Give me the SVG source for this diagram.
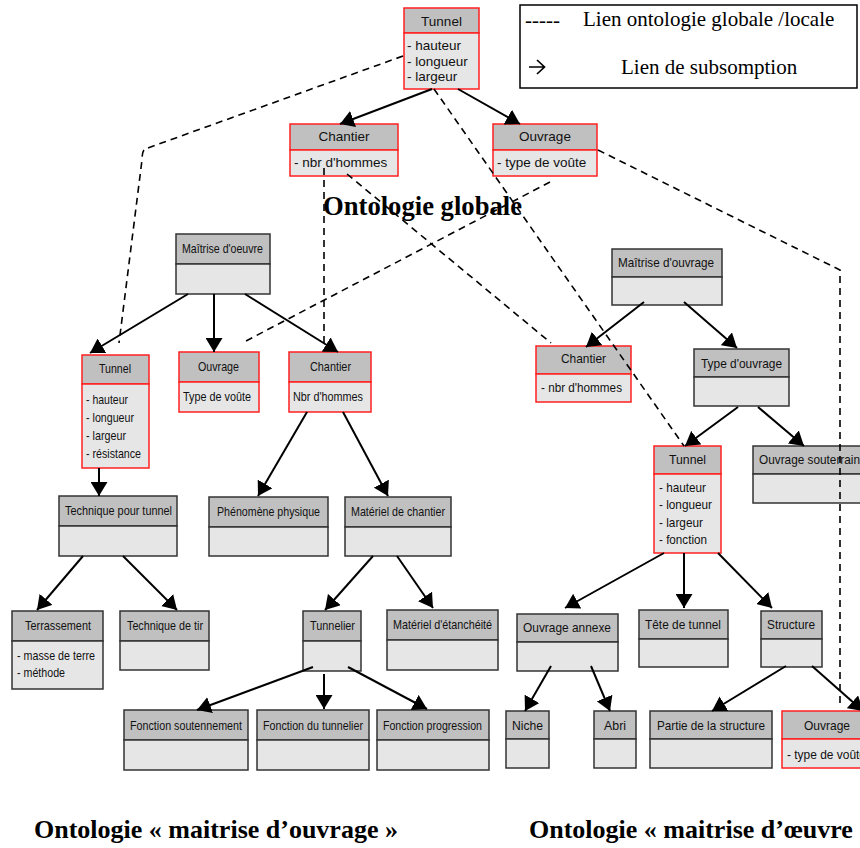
<svg xmlns="http://www.w3.org/2000/svg" width="860" height="848" viewBox="0 0 860 848">
  <style>
    .hd { fill: #c0c0c0; stroke: #333; stroke-width: 1.5; }
    .bd { fill: #e6e6e6; stroke: #333; stroke-width: 1.5; }
    .red .hd, .red .bd { stroke: #ff2020; }
    .t { font-family: "Liberation Sans", Arial, sans-serif; font-size: 13.5px; fill: #111; }
    .tg { font-family: "Liberation Sans", Arial, sans-serif; font-size: 13.5px; fill: #111; }
    .c { text-anchor: middle; }
    .title { font-family: "Liberation Serif", "Times New Roman", serif; font-weight: bold; fill: #000; }
    .leg { font-family: "Liberation Serif", "Times New Roman", serif; font-size: 21px; fill: #000; }
    .sub { stroke: #000; stroke-width: 2; fill: none; marker-end: url(#ah); }
    .dash { stroke: #000; stroke-width: 1.6; fill: none; stroke-dasharray: 7 5; }
  </style>
  <defs>
    <marker id="ah" viewBox="0 0 14 17" refX="14" refY="8.5" markerWidth="14" markerHeight="17" markerUnits="userSpaceOnUse" orient="auto">
      <path d="M0,0 L14,8.5 L0,17 z" fill="#000"/>
    </marker>
  </defs>
  <rect width="860" height="848" fill="#fff"/>

  <!-- legend -->
  <g id="legend">
    <rect x="520" y="5" width="337" height="83" fill="#fff" stroke="#000" stroke-width="1.5"/>
    <text class="leg" x="525" y="27">-----</text>
    <text class="leg" x="583" y="26">Lien ontologie globale /locale</text>
    <path d="M529,67 H544 M537,60 L544.5,67 L537,74" stroke="#000" stroke-width="1.7" fill="none"/>
    <text class="leg" x="621" y="74">Lien de subsomption</text>
  </g>

  <!-- global ontology -->
  <g id="g-tunnel" class="red">
    <rect class="hd" x="404" y="8" width="75" height="25"/>
    <rect class="bd" x="404" y="33" width="75" height="56"/>
    <text class="tg c" x="441.5" y="26">Tunnel</text>
    <text class="tg" x="407" y="50">- hauteur</text>
    <text class="tg" x="407" y="66">- longueur</text>
    <text class="tg" x="407" y="81">- largeur</text>
  </g>
  <g id="g-chantier" class="red">
    <rect class="hd" x="290" y="124" width="108" height="26"/>
    <rect class="bd" x="290" y="150" width="108" height="26"/>
    <text class="tg c" x="344" y="141">Chantier</text>
    <text class="tg" x="294" y="167">- nbr d'hommes</text>
  </g>
  <g id="g-ouvrage" class="red">
    <rect class="hd" x="493" y="124" width="104" height="26"/>
    <rect class="bd" x="493" y="150" width="104" height="26"/>
    <text class="tg c" x="545" y="141">Ouvrage</text>
    <text class="tg" x="497" y="167">- type de voûte</text>
  </g>
  <text class="title" x="323" y="215" font-size="27" textLength="199" lengthAdjust="spacingAndGlyphs">Ontologie globale</text>

  <!-- ontology: maîtrise d'oeuvre -->
  <g id="mo-root">
    <rect class="hd" x="176" y="234" width="94" height="30"/>
    <rect class="bd" x="176" y="264" width="94" height="30"/>
    <text class="t" x="182" y="253" textLength="81" lengthAdjust="spacingAndGlyphs">Maîtrise d'oeuvre</text>
  </g>
  <g id="mo-tunnel" class="red">
    <rect class="hd" x="82" y="355" width="67" height="29"/>
    <rect class="bd" x="82" y="384" width="67" height="84"/>
    <text class="t" x="99" y="373" textLength="32" lengthAdjust="spacingAndGlyphs">Tunnel</text>
    <text class="t" x="86" y="404" textLength="42" lengthAdjust="spacingAndGlyphs">- hauteur</text>
    <text class="t" x="86" y="422" textLength="48" lengthAdjust="spacingAndGlyphs">- longueur</text>
    <text class="t" x="86" y="440" textLength="40" lengthAdjust="spacingAndGlyphs">- largeur</text>
    <text class="t" x="86" y="458" textLength="55" lengthAdjust="spacingAndGlyphs">- résistance</text>
  </g>
  <g id="mo-ouvrage" class="red">
    <rect class="hd" x="179" y="352" width="80" height="30"/>
    <rect class="bd" x="179" y="382" width="80" height="30"/>
    <text class="t" x="198" y="371" textLength="41" lengthAdjust="spacingAndGlyphs">Ouvrage</text>
    <text class="t" x="183" y="401" textLength="68" lengthAdjust="spacingAndGlyphs">Type de voûte</text>
  </g>
  <g id="mo-chantier" class="red">
    <rect class="hd" x="289" y="352" width="82" height="30"/>
    <rect class="bd" x="289" y="382" width="82" height="30"/>
    <text class="t" x="310" y="371" textLength="41" lengthAdjust="spacingAndGlyphs">Chantier</text>
    <text class="t" x="293" y="401" textLength="70" lengthAdjust="spacingAndGlyphs">Nbr d'hommes</text>
  </g>
  <g id="mo-technique">
    <rect class="hd" x="59" y="496" width="118" height="30"/>
    <rect class="bd" x="59" y="526" width="118" height="30"/>
    <text class="t" x="65" y="515" textLength="107" lengthAdjust="spacingAndGlyphs">Technique pour tunnel</text>
  </g>
  <g id="mo-phenomene">
    <rect class="hd" x="209" y="497" width="119" height="30"/>
    <rect class="bd" x="209" y="527" width="119" height="29"/>
    <text class="t" x="217" y="516" textLength="103" lengthAdjust="spacingAndGlyphs">Phénomène physique</text>
  </g>
  <g id="mo-materiel">
    <rect class="hd" x="345" y="497" width="106" height="30"/>
    <rect class="bd" x="345" y="527" width="106" height="29"/>
    <text class="t" x="351" y="516" textLength="94" lengthAdjust="spacingAndGlyphs">Matériel de chantier</text>
  </g>
  <g id="mo-terrassement">
    <rect class="hd" x="12" y="611" width="91" height="30"/>
    <rect class="bd" x="12" y="641" width="91" height="48"/>
    <text class="t" x="25" y="630" textLength="66" lengthAdjust="spacingAndGlyphs">Terrassement</text>
    <text class="t" x="17" y="660" textLength="78" lengthAdjust="spacingAndGlyphs">- masse de terre</text>
    <text class="t" x="17" y="677" textLength="48" lengthAdjust="spacingAndGlyphs">- méthode</text>
  </g>
  <g id="mo-tir">
    <rect class="hd" x="120" y="611" width="89" height="30"/>
    <rect class="bd" x="120" y="641" width="89" height="29"/>
    <text class="t" x="127" y="630" textLength="76" lengthAdjust="spacingAndGlyphs">Technique de tir</text>
  </g>
  <g id="mo-tunnelier">
    <rect class="hd" x="303" y="611" width="58" height="30"/>
    <rect class="bd" x="303" y="641" width="58" height="30"/>
    <text class="t" x="310" y="630" textLength="45" lengthAdjust="spacingAndGlyphs">Tunnelier</text>
  </g>
  <g id="mo-etancheite">
    <rect class="hd" x="387" y="610" width="111" height="30"/>
    <rect class="bd" x="387" y="640" width="111" height="30"/>
    <text class="t" x="393" y="629" textLength="99" lengthAdjust="spacingAndGlyphs">Matériel d'étanchéité</text>
  </g>
  <g id="mo-soutennement">
    <rect class="hd" x="124" y="710" width="124" height="30"/>
    <rect class="bd" x="124" y="740" width="124" height="30"/>
    <text class="t" x="130" y="730" textLength="112" lengthAdjust="spacingAndGlyphs">Fonction soutennement</text>
  </g>
  <g id="mo-fonction-tunnelier">
    <rect class="hd" x="257" y="710" width="112" height="30"/>
    <rect class="bd" x="257" y="740" width="112" height="30"/>
    <text class="t" x="263" y="730" textLength="100" lengthAdjust="spacingAndGlyphs">Fonction du tunnelier</text>
  </g>
  <g id="mo-progression">
    <rect class="hd" x="377" y="710" width="112" height="30"/>
    <rect class="bd" x="377" y="740" width="112" height="30"/>
    <text class="t" x="383" y="730" textLength="99" lengthAdjust="spacingAndGlyphs">Fonction progression</text>
  </g>

  <!-- ontology: maîtrise d'ouvrage -->
  <g id="mv-root">
    <rect class="hd" x="612" y="249" width="110" height="28"/>
    <rect class="bd" x="612" y="277" width="110" height="28"/>
    <text class="t" x="618" y="267" textLength="96" lengthAdjust="spacingAndGlyphs">Maîtrise d'ouvrage</text>
  </g>
  <g id="mv-chantier" class="red">
    <rect class="hd" x="536" y="346" width="95" height="28"/>
    <rect class="bd" x="536" y="374" width="95" height="28"/>
    <text class="t" x="561" y="363" textLength="45" lengthAdjust="spacingAndGlyphs">Chantier</text>
    <text class="t" x="541" y="392" textLength="81" lengthAdjust="spacingAndGlyphs">- nbr d'hommes</text>
  </g>
  <g id="mv-type">
    <rect class="hd" x="694" y="349" width="95" height="28"/>
    <rect class="bd" x="694" y="377" width="95" height="29"/>
    <text class="t" x="701" y="368" textLength="81" lengthAdjust="spacingAndGlyphs">Type d'ouvrage</text>
  </g>
  <g id="mv-tunnel" class="red">
    <rect class="hd" x="654" y="446" width="67" height="28"/>
    <rect class="bd" x="654" y="474" width="67" height="79"/>
    <text class="t" x="669" y="464" textLength="37" lengthAdjust="spacingAndGlyphs">Tunnel</text>
    <text class="t" x="659" y="492" textLength="47" lengthAdjust="spacingAndGlyphs">- hauteur</text>
    <text class="t" x="659" y="509" textLength="53" lengthAdjust="spacingAndGlyphs">- longueur</text>
    <text class="t" x="659" y="527" textLength="44" lengthAdjust="spacingAndGlyphs">- largeur</text>
    <text class="t" x="659" y="544" textLength="48" lengthAdjust="spacingAndGlyphs">- fonction</text>
  </g>
  <g id="mv-souterrain">
    <rect class="hd" x="753" y="446" width="115" height="28"/>
    <rect class="bd" x="753" y="474" width="115" height="29"/>
    <text class="t" x="759" y="464" textLength="101" lengthAdjust="spacingAndGlyphs">Ouvrage souterrain</text>
  </g>
  <g id="mv-annexe">
    <rect class="hd" x="517" y="614" width="101" height="28"/>
    <rect class="bd" x="517" y="642" width="101" height="29"/>
    <text class="t" x="523" y="632" textLength="88" lengthAdjust="spacingAndGlyphs">Ouvrage annexe</text>
  </g>
  <g id="mv-tete">
    <rect class="hd" x="639" y="610" width="89" height="29"/>
    <rect class="bd" x="639" y="639" width="89" height="28"/>
    <text class="t" x="645" y="629" textLength="76" lengthAdjust="spacingAndGlyphs">Tête de tunnel</text>
  </g>
  <g id="mv-structure">
    <rect class="hd" x="761" y="611" width="61" height="28"/>
    <rect class="bd" x="761" y="639" width="61" height="28"/>
    <text class="t" x="767" y="629" textLength="48" lengthAdjust="spacingAndGlyphs">Structure</text>
  </g>
  <g id="mv-niche">
    <rect class="hd" x="506" y="711" width="43" height="28"/>
    <rect class="bd" x="506" y="739" width="43" height="29"/>
    <text class="t" x="512" y="730" textLength="31" lengthAdjust="spacingAndGlyphs">Niche</text>
  </g>
  <g id="mv-abri">
    <rect class="hd" x="594" y="711" width="42" height="28"/>
    <rect class="bd" x="594" y="739" width="42" height="29"/>
    <text class="t" x="604" y="730" textLength="22" lengthAdjust="spacingAndGlyphs">Abri</text>
  </g>
  <g id="mv-partie">
    <rect class="hd" x="650" y="711" width="122" height="28"/>
    <rect class="bd" x="650" y="739" width="122" height="29"/>
    <text class="t" x="657" y="730" textLength="108" lengthAdjust="spacingAndGlyphs">Partie de la structure</text>
  </g>
  <g id="mv-ouvrage" class="red">
    <rect class="hd" x="782" y="711" width="90" height="28"/>
    <rect class="bd" x="782" y="739" width="90" height="29"/>
    <text class="t" x="804" y="730" textLength="46" lengthAdjust="spacingAndGlyphs">Ouvrage</text>
    <text class="t" x="787" y="759" textLength="79" lengthAdjust="spacingAndGlyphs">- type de voûte</text>
  </g>

  <!-- connectors -->
  <g id="connectors">
    <!-- subsumption links -->
    <line class="sub" x1="432" y1="89" x2="340" y2="124"/>
    <line class="sub" x1="458" y1="89" x2="520" y2="124"/>
    <line class="sub" x1="188" y1="294" x2="90" y2="353"/>
    <line class="sub" x1="214" y1="294" x2="214" y2="352"/>
    <line class="sub" x1="245" y1="294" x2="338" y2="352"/>
    <line class="sub" x1="99" y1="468" x2="99" y2="496"/>
    <line class="sub" x1="307" y1="412" x2="258" y2="496"/>
    <line class="sub" x1="343" y1="412" x2="388" y2="496"/>
    <line class="sub" x1="83" y1="556" x2="37" y2="610"/>
    <line class="sub" x1="123" y1="556" x2="177" y2="610"/>
    <line class="sub" x1="373" y1="556" x2="325" y2="610"/>
    <line class="sub" x1="397" y1="556" x2="433" y2="608"/>
    <line class="sub" x1="313" y1="667" x2="197" y2="710"/>
    <line class="sub" x1="324" y1="674" x2="324" y2="709"/>
    <line class="sub" x1="348" y1="667" x2="427" y2="709"/>
    <line class="sub" x1="644" y1="302" x2="586" y2="347"/>
    <line class="sub" x1="684" y1="302" x2="737" y2="348"/>
    <line class="sub" x1="738" y1="407" x2="685" y2="446"/>
    <line class="sub" x1="758" y1="407" x2="804" y2="446"/>
    <line class="sub" x1="664" y1="553" x2="565" y2="608"/>
    <line class="sub" x1="684" y1="553" x2="684" y2="608"/>
    <line class="sub" x1="718" y1="553" x2="772" y2="608"/>
    <line class="sub" x1="551" y1="666" x2="525" y2="711"/>
    <line class="sub" x1="591" y1="666" x2="610" y2="711"/>
    <line class="sub" x1="786" y1="666" x2="712" y2="711"/>
    <line class="sub" x1="812" y1="666" x2="863" y2="711"/>
    <!-- global / local links -->
    <path class="dash" d="M403,56 L145,149 Q142,151 142,160 L119,343"/>
    <line class="dash" x1="324" y1="168" x2="324" y2="344"/>
    <line class="dash" x1="347" y1="174" x2="551" y2="343"/>
    <line class="dash" x1="434" y1="89" x2="684" y2="446"/>
    <line class="dash" x1="550" y1="182" x2="244" y2="342"/>
    <path class="dash" d="M598,150 L840,270 V708"/>
  </g>

  <!-- captions -->
  <text class="title" x="34" y="838" font-size="26">Ontologie « maitrise d’ouvrage »</text>
  <text class="title" x="529" y="838" font-size="26">Ontologie « maitrise d’œuvre »</text>
</svg>
